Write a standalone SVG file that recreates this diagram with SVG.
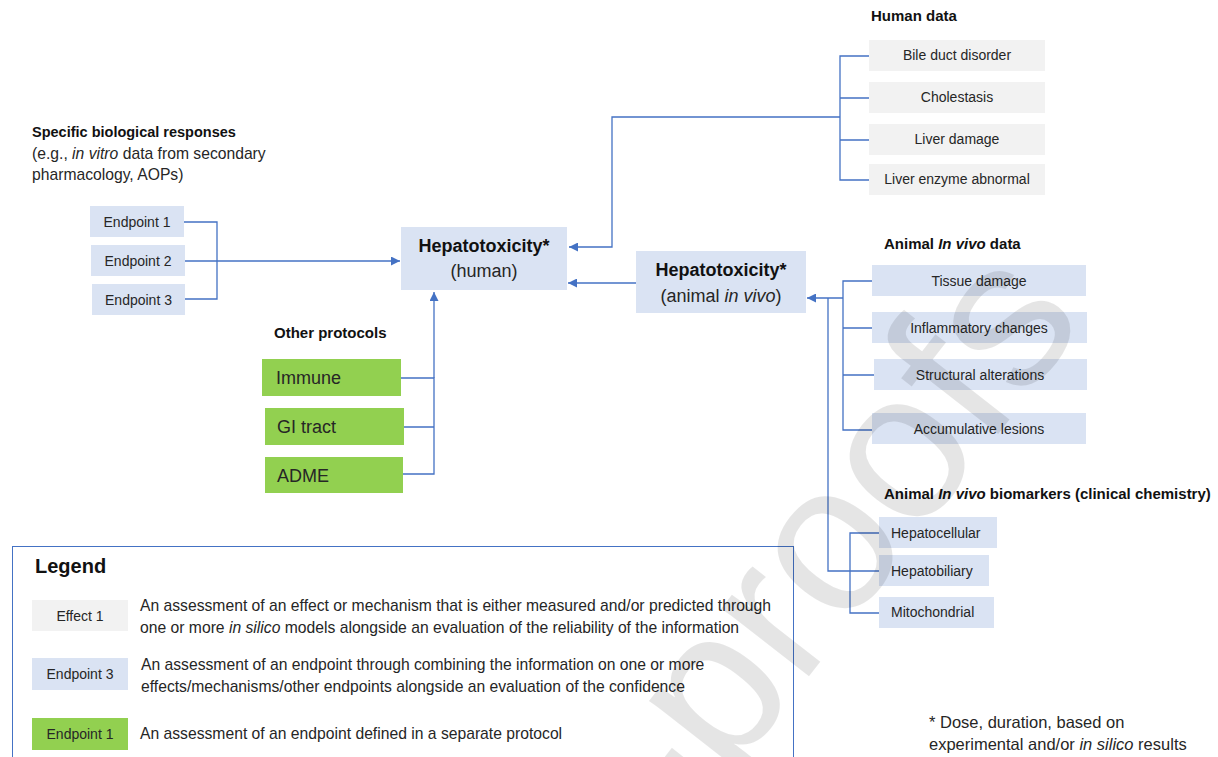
<svg xmlns="http://www.w3.org/2000/svg" width="1218" height="757" viewBox="0 0 1218 757">
<style>
text{font-family:"Liberation Sans",Arial,sans-serif;fill:#262626}
.t{font-size:14px}
.d{font-size:15.7px}
.c{text-anchor:middle}
.h{font-size:15px;font-weight:bold;fill:#111}
.big{font-size:18px}
.bb{font-size:18px;font-weight:bold;fill:#111}
.blue{fill:#dae3f3}
.grey{fill:#f2f2f2}
.green{fill:#92d050}
.ln{fill:none;stroke:#4472c4;stroke-width:1.3}
.wm{font-size:210px;fill:#000;fill-opacity:0.1}
</style>
<defs>
<marker id="arr" viewBox="0 0 10 10" refX="10" refY="5" markerWidth="11" markerHeight="9" markerUnits="userSpaceOnUse" orient="auto">
<path d="M0,0 L10,5 L0,10 z" fill="#4472c4"/>
</marker>
</defs>
<rect width="1218" height="757" fill="#fff"/>

<g id="labels">
<text class="h" x="32" y="137" style="font-size:14.5px">Specific biological responses</text>
<text class="d" x="32" y="159">(e.g., <tspan font-style="italic">in vitro</tspan> data from secondary</text>
<text class="d" x="32" y="180">pharmacology, AOPs)</text>
<text class="h" x="871" y="21">Human data</text>
<text class="h" x="884" y="249">Animal <tspan font-style="italic">In vivo</tspan> data</text>
<text class="h" x="884" y="499">Animal <tspan font-style="italic">In vivo</tspan> biomarkers (clinical chemistry)</text>
<text class="h" x="274" y="338">Other protocols</text>
<text x="929" y="728" style="font-size:16.5px">* Dose, duration, based on</text>
<text x="929" y="750" style="font-size:16.5px">experimental and/or <tspan font-style="italic">in silico</tspan> results</text>
</g>

<g id="endpoint1"><rect class="blue" x="90" y="206" width="94" height="31"/><text class="t c" x="137" y="226.5">Endpoint 1</text></g>
<g id="endpoint2"><rect class="blue" x="91" y="245" width="94" height="31"/><text class="t c" x="138" y="265.5">Endpoint 2</text></g>
<g id="endpoint3"><rect class="blue" x="92" y="284" width="93" height="31"/><text class="t c" x="138.5" y="304.5">Endpoint 3</text></g>

<g id="hepato-human"><rect class="blue" x="401" y="227" width="166" height="63"/>
<text class="bb c" x="484" y="252">Hepatotoxicity*</text>
<text class="big c" x="484" y="277">(human)</text></g>

<g id="hepato-animal"><rect class="blue" x="636" y="251" width="170" height="62"/>
<text class="bb c" x="721" y="276">Hepatotoxicity*</text>
<text class="big c" x="721" y="302">(animal <tspan font-style="italic">in vivo</tspan>)</text></g>

<g id="bile"><rect class="grey" x="869" y="40" width="176" height="31"/><text class="t c" x="957" y="60">Bile duct disorder</text></g>
<g id="cholestasis"><rect class="grey" x="869" y="82" width="176" height="31"/><text class="t c" x="957" y="102">Cholestasis</text></g>
<g id="liverdamage"><rect class="grey" x="869" y="124" width="176" height="31"/><text class="t c" x="957" y="144">Liver damage</text></g>
<g id="liverenzyme"><rect class="grey" x="869" y="164" width="176" height="31"/><text class="t c" x="957" y="184">Liver enzyme abnormal</text></g>

<g id="tissue"><rect class="blue" x="872" y="265" width="214" height="31"/><text class="t c" x="979" y="285.5">Tissue damage</text></g>
<g id="inflam"><rect class="blue" x="872" y="312" width="215" height="31"/><text class="t c" x="979" y="332.5">Inflammatory changes</text></g>
<g id="struct"><rect class="blue" x="874" y="359" width="213" height="31"/><text class="t c" x="980" y="379.5">Structural alterations</text></g>
<g id="accum"><rect class="blue" x="872" y="413" width="214" height="31"/><text class="t c" x="979" y="433.5">Accumulative lesions</text></g>

<g id="hepatocellular"><rect class="blue" x="879" y="517" width="118" height="31"/><text class="t" x="891" y="537.5">Hepatocellular</text></g>
<g id="hepatobiliary"><rect class="blue" x="879" y="555" width="110" height="31"/><text class="t" x="891" y="575.5">Hepatobiliary</text></g>
<g id="mito"><rect class="blue" x="879" y="597" width="115" height="31"/><text class="t" x="891" y="617">Mitochondrial</text></g>

<g id="immune"><rect class="green" x="262" y="359" width="139" height="37"/><text class="big" x="276" y="384">Immune</text></g>
<g id="gitract"><rect class="green" x="265" y="408" width="139" height="37"/><text class="big" x="277" y="433">GI tract</text></g>
<g id="adme"><rect class="green" x="265" y="457" width="138" height="36"/><text class="big" x="277" y="481.5">ADME</text></g>

<g id="connectors">
<path class="ln" d="M184,222 H217 V299 H185"/>
<path class="ln" d="M185,261 H400" marker-end="url(#arr)"/>
<path class="ln" d="M869,56 H840 V180 H869 M840,98 H869 M840,140 H869"/>
<path class="ln" d="M840,117 H612 V247 H569" marker-end="url(#arr)"/>
<path class="ln" d="M636,283 H568" marker-end="url(#arr)"/>
<path class="ln" d="M872,281 H843 V430 H872 M843,328 H872 M843,375 H874"/>
<path class="ln" d="M843,298 H807" marker-end="url(#arr)"/>
<path class="ln" d="M828,298 V571 H879 M879,533 H850 V613 H879"/>
<path class="ln" d="M401,378 H434 V474 H403 M404,427 H434"/>
<path class="ln" d="M434,378 V292" marker-end="url(#arr)"/>
</g>

<g id="legend">
<rect x="12.5" y="546.5" width="781" height="230" fill="none" stroke="#4472c4" stroke-width="1"/>
<text x="35" y="573" style="font-size:20px;font-weight:bold;fill:#111">Legend</text>
<rect class="grey" x="32" y="600" width="96" height="31"/>
<text class="t c" x="80" y="620.5">Effect 1</text>
<text class="d" x="140" y="611">An assessment of an effect or mechanism that is either measured and/or predicted through</text>
<text class="d" x="140" y="633">one or more <tspan font-style="italic">in silico</tspan> models alongside an evaluation of the reliability of the information</text>
<rect class="blue" x="32" y="658" width="96" height="32"/>
<text class="t c" x="80" y="679">Endpoint 3</text>
<text class="d" x="141" y="670">An assessment of an endpoint through combining the information on one or more</text>
<text class="d" x="141" y="692">effects/mechanisms/other endpoints alongside an evaluation of the confidence</text>
<rect class="green" x="32" y="718" width="96" height="32"/>
<text class="t c" x="80" y="739">Endpoint 1</text>
<text class="d" x="140" y="739">An assessment of an endpoint defined in a separate protocol</text>
</g>

<text class="wm" transform="translate(685,835) rotate(-52)">-proofs</text>
</svg>
